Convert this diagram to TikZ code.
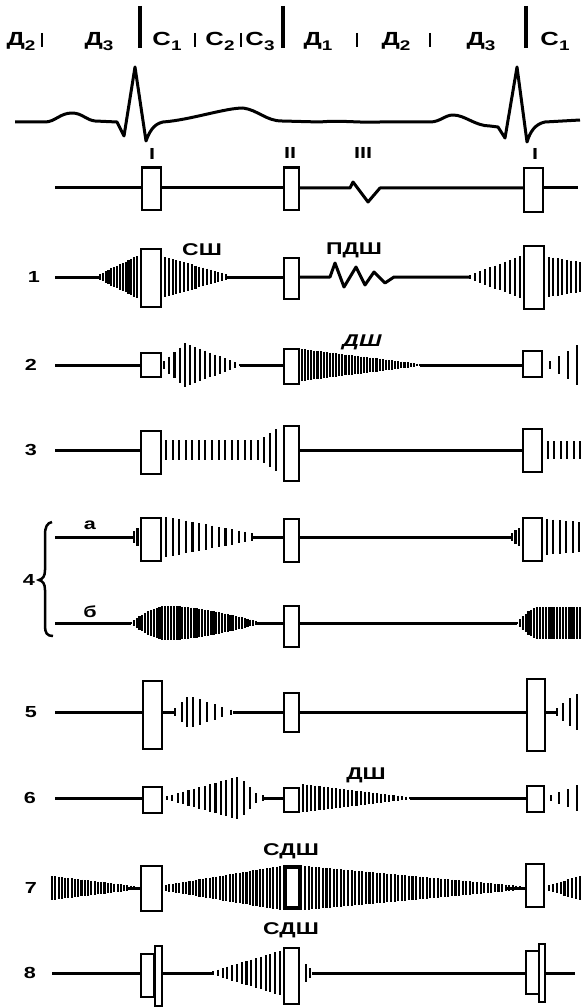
\documentclass[tikz,border=0pt]{standalone}
\usepackage{fontspec}
\setmainfont{Liberation Sans}
\newfontfamily\labfont[FakeStretch=1.35]{Liberation Sans}

% a row of vibration strokes from x=#1 to x=#2 (#3 steps) on baseline #4;
% #5 is the half-height as an expression of \vt (0..1)
\newcommand\vibe[5]{%
  \foreach \k in {0,...,#3}{%
    \pgfmathsetmacro\vt{\k/#3}%
    \pgfmathsetmacro\vx{#1+(#2-#1)*\vt}%
    \pgfmathsetmacro\va{#5}%
    \draw[vib] (\vx,#4-\va) -- (\vx,#4+\va);
  }}
% linear envelope from half-height #5 to #6
\newcommand\vlin[6]{\vibe{#1}{#2}{#3}{#4}{#5+(#6-#5)*\vt}}
% single strokes given as x/half-height pairs
\newcommand\bars[2]{\foreach \vx/\va in {#2}{\draw[vib] (\vx,#1-\va) -- (\vx,#1+\va);}}
% heart-sound box: [options] name, x, y, width, height
\newcommand\tone[6][]{\node[tone,minimum width=#5pt,minimum height=#6pt,#1] (#2) at (#3,#4) {};}
\newcommand\sub[1]{\raisebox{-0.45ex}{\fontsize{14}{14}\selectfont#1}}

\begin{document}
\begin{tikzpicture}[x=1pt,y=-1pt,
  base/.style={line width=3pt},
  ecg/.style={line width=3pt,line join=round},
  vib/.style={line width=2.1pt},
  tone/.style={draw,fill=white,line width=2.4pt,inner sep=0pt},
  toplbl/.style={font=\labfont\bfseries\fontsize{19}{19}\selectfont,inner sep=0pt,anchor=base},
  lbl/.style={font=\labfont\bfseries\fontsize{16}{16}\selectfont,inner sep=0pt},
  mlbl/.style={font=\labfont\bfseries\fontsize{17}{17}\selectfont,inner sep=0pt},
  tick/.style={line width=2.6pt},
  phase/.style={line width=3.2pt}]
\useasboundingbox (0,0) rectangle (581,1008);

% ---------- phases of the cardiac cycle ----------
\node[toplbl] (p1) at (21,46) {Д\sub{2}};
\node[toplbl] (p2) at (99,46) {Д\sub{3}};
\node[toplbl] (p3) at (167,46) {С\sub{1}};
\node[toplbl] (p4) at (220,46) {С\sub{2}};
\node[toplbl] (p5) at (260,46) {С\sub{3}};
\node[toplbl] (p6) at (318,46) {Д\sub{1}};
\node[toplbl] (p7) at (396,46) {Д\sub{2}};
\node[toplbl] (p8) at (481,46) {Д\sub{3}};
\node[toplbl] (p9) at (555,46) {С\sub{1}};
\foreach \x in {42,195,241,357,430} \draw[tick] (\x,33) -- (\x,47);
\foreach \x in {140,283,526} \draw[phase] (\x,6) -- (\x,48);

% ---------- ECG ----------
\draw[ecg] (15,122) -- (45,122) .. controls (55,122) and (60,113) .. (72,113)
  .. controls (82,113) and (86,120) .. (95,121) -- (117,122) -- (124,136)
  -- (135,67) -- (146,141) .. controls (149,133) and (153,124) .. (163,122)
  .. controls (190,120) and (225,108) .. (243,108)
  .. controls (258,110) and (266,121) .. (282,121) -- (320,122)
  .. controls (340,120) and (360,123) .. (380,122) -- (430,122)
  .. controls (440,122) and (445,115) .. (453,115)
  .. controls (465,115) and (475,126) .. (490,126) -- (498,127) -- (505,138)
  -- (517,67) -- (527,142) .. controls (530,132) and (535,124) .. (545,122)
  -- (580,120);

% ---------- normal tones ----------
\node[lbl] (n1) at (152,154) {I};
\node[lbl] (n2) at (290,153) {II};
\node[lbl] (n3) at (363,153) {III};
\node[lbl] (n4) at (535,154) {I};
\tone{b0a}{151.5}{189}{18.6}{42.6}
\tone{b0b}{291.5}{189}{14.6}{42.6}
\tone{b0c}{533.5}{190}{18.6}{43.6}
\coordinate (s0) at (55,188);
\coordinate (z0) at (350,188);
\coordinate (z1) at (380,188);
\coordinate (e0) at (578,188);
\draw[base] (s0) -- (s0 -| b0a.west);
\draw[base] (b0a.east |- s0) -- (b0b.west |- s0);
\draw[base,line join=round] (b0b.east |- s0) -- (z0) -- (353,182) -- (368,202) -- (z1) -- (b0c.west |- s0);
\draw[base] (b0c.east |- s0) -- (e0);

% ---------- row 1 ----------
\node[lbl] (r1) at (34,277) {1};
\tone{b1a}{151}{278}{19.6}{57.6}
\tone{b1b}{291.5}{278.5}{14.6}{40.6}
\tone{b1c}{534}{277.5}{19.6}{62.6}
\coordinate (s1) at (55,277);
\coordinate (c1) at (100,277);
\coordinate (d1) at (226,277);
\coordinate (z2) at (330,277);
\coordinate (z3) at (394,277);
\coordinate (c2) at (470,277);
\draw[base] (s1) -- (c1);
\vlin{100}{137}{13}{277}{3}{21}
\vlin{165}{226}{16}{277}{20}{3}
\draw[base] (d1) -- (b1b.west |- d1);
\draw[base,line join=round] (b1b.east |- d1) -- (z2) -- (335,263) -- (344,287) -- (356,267)
  -- (365,285) -- (374,272) -- (385,283) -- (z3) -- (c2);
\vlin{470}{520}{10}{277}{2}{21}
\vlin{549}{580}{7}{277}{20}{15}
\node[mlbl] (m1) at (202,250) {СШ};
\node[mlbl] (m2) at (354,250) {ПДШ};

% ---------- row 2 ----------
\node[lbl] (r2) at (31,365) {2};
\tone{b2a}{151}{365}{19.6}{23.6}
\tone{b2b}{291.5}{366.5}{14.6}{34.6}
\tone{b2c}{532.5}{364}{18.6}{25.6}
\coordinate (s2) at (55,365);
\coordinate (d2) at (240,365);
\coordinate (f2) at (420,365);
\draw[base] (s2) -- (b2a.west |- s2);
\vlin{164}{185}{4}{365}{4}{22}
\vlin{190}{240}{10}{365}{20}{1}
\draw[base] (d2) -- (b2b.west |- d2);
\vlin{302}{420}{38}{365}{16}{1}
\draw[base] (f2) -- (b2c.west |- f2);
\bars{365}{550/4,559/9,568/14,577/20}
\node[mlbl,font=\labfont\bfseries\itshape\fontsize{17}{17}\selectfont] (m3) at (362,342) {ДШ};

% ---------- row 3 ----------
\node[lbl] (r3) at (31,450) {3};
\tone{b3a}{151}{452.5}{19.6}{42.6}
\tone{b3b}{291.5}{453.5}{14.6}{54.6}
\tone{b3c}{532.5}{450.5}{18.6}{42.6}
\coordinate (s3) at (55,450);
\draw[base] (s3) -- (b3a.west |- s3);
\vlin{166}{258}{14}{450}{10}{10}
\bars{450}{264/13,270/17,276/21}
\draw[base] (b3b.east |- s3) -- (b3c.west |- s3);
\vlin{548}{580}{5}{450}{9}{9}

% ---------- row 4 ----------
\node[lbl] (r4) at (29,580) {4};
\draw[line width=2.5pt] (52,522) .. controls (47,523) and (45,527) .. (45,535) -- (45,570)
  .. controls (45,576) and (43,579) .. (39,580) .. controls (43,581) and (45,584) .. (45,590)
  -- (45,626) .. controls (45,633) and (47,636) .. (53,636);
\node[lbl] (r4a) at (90,525) {а};
\node[lbl] (r4b) at (90,612) {б};
% variant a
\tone{b4a}{151}{539.5}{19.6}{42.6}
\tone{b4b}{291.5}{540.5}{14.6}{42.6}
\tone{b4c}{532.5}{539.5}{18.6}{42.6}
\coordinate (s4) at (55,537);
\coordinate (c4) at (133,537);
\coordinate (d4) at (252,537);
\coordinate (f4) at (512,537);
\draw[base] (s4) -- (c4);
\bars{537}{134/6,137.5/9}
\vlin{166}{252}{13}{537}{20}{4}
\draw[base] (d4) -- (b4b.west |- d4);
\draw[base] (b4b.east |- d4) -- (f4);
\bars{537}{512/4,515.5/7,519/9}
\vlin{547}{579}{5}{537}{18}{15}
% variant b
\tone{b4d}{291.5}{626.5}{14.6}{40.6}
\coordinate (s5) at (55,623);
\coordinate (c5) at (131,623);
\coordinate (d5) at (256,623);
\coordinate (f5) at (517,623);
\draw[base] (s5) -- (c5);
\vibe{131}{168}{13}{623}{1+16*sin(90*\vt)}
\vibe{171}{256}{30}{623}{2+15*(1-\vt^1.5)}
\draw[base] (d5) -- (b4d.west |- d5);
\draw[base] (b4d.east |- d5) -- (f5);
\vibe{517}{540}{8}{623}{1+15*sin(90*\vt)}
\vlin{543}{580}{13}{623}{16}{16}

% ---------- row 5 ----------
\node[lbl] (r5) at (31,712) {5};
\tone{b5a}{152.5}{715}{18.6}{67.6}
\tone{b5b}{291.5}{712.5}{14.6}{38.6}
\tone{b5c}{536}{715}{17.6}{71.6}
\coordinate (s6) at (55,712);
\coordinate (c6) at (175,712);
\coordinate (d6) at (233,712);
\coordinate (f6) at (557,712);
\draw[base] (s6) -- (b5a.west |- s6);
\draw[base] (b5a.east |- s6) -- (c6);
\bars{712}{175/4,182/10,187/15,193/15,200/13,207/10,215/8,222/5,231/2.5}
\draw[base] (d6) -- (b5b.west |- d6);
\draw[base] (b5b.east |- d6) -- (b5c.west |- d6);
\draw[base] (b5c.east |- d6) -- (f6);
\bars{712}{557/4,563/9,570/14,577/18}

% ---------- row 6 ----------
\node[lbl] (r6) at (30,798) {6};
\tone{b6a}{152.5}{800}{18.6}{25.6}
\tone{b6b}{291.5}{800}{14.6}{23.6}
\tone{b6c}{535.5}{799}{16.6}{25.6}
\coordinate (s7) at (55,798);
\coordinate (d7) at (262,798);
\coordinate (f7) at (410,798);
\draw[base] (s7) -- (b6a.west |- s7);
\vlin{167}{237}{13}{798}{2}{21}
\bars{798}{244/17,250/11,256/5,263/3}
\draw[base] (d7) -- (b6b.west |- d7);
\vlin{303}{410}{26}{798}{14}{1}
\draw[base] (f7) -- (b6c.west |- f7);
\bars{798}{551/3,559/6,568/9,577/13}
\node[mlbl] (m4) at (366,775) {ДШ};

% ---------- row 7 ----------
\node[lbl] (r7) at (31,888) {7};
\tone{b7a}{151.5}{888.5}{20.6}{44.6}
\tone[line width=3.6pt]{b7b}{292.5}{887.5}{15.4}{41.4}
\tone{b7c}{535}{885.5}{17.6}{42.6}
\coordinate (c8) at (128,888);
\coordinate (f8) at (505,888);
\vlin{52}{134}{25}{888}{12}{2}
\draw[base] (c8) -- (b7a.west |- c8);
\vlin{166}{280}{34}{888}{3}{22}
\vlin{305}{520}{60}{888}{22}{2}
\draw[base] (f8) -- (b7c.west |- f8);
\vlin{549}{580}{8}{888}{3}{12}
\node[mlbl] (m5) at (291,851) {СДШ};

% ---------- row 8 ----------
\node[lbl] (r8) at (30,973) {8};
\tone{b8a}{147.5}{975.5}{12.6}{42.6}
\tone{b8b}{158.5}{976}{6.6}{59.6}
\tone{b8c}{291.5}{976}{14.6}{55.6}
\tone{b8d}{532.5}{972.5}{12.6}{42.6}
\tone{b8e}{542}{973}{5.6}{57.6}
\coordinate (s9) at (52,973);
\coordinate (c9) at (213,973);
\coordinate (d9) at (312,973);
\coordinate (e9) at (575,973);
\draw[base] (s9) -- (b8a.west |- s9);
\draw[base] (b8b.east |- s9) -- (c9);
\vlin{213}{280}{14}{973}{2}{22}
\bars{973}{306/9,310/5}
\draw[base] (d9) -- (b8d.west |- d9);
\draw[base] (b8e.east |- d9) -- (e9);
\node[mlbl] (m6) at (291,930) {СДШ};
\end{tikzpicture}
\end{document}
